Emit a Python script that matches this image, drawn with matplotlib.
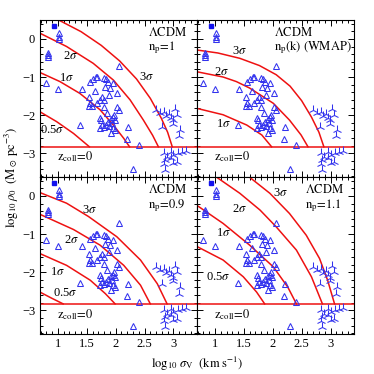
import numpy as np
import matplotlib as mpl
mpl.use('Agg')
from matplotlib import pyplot as plt
from matplotlib.ticker import MultipleLocator

plt.rcParams['font.family'] = ['Liberation Serif', 'DejaVu Serif']
plt.rcParams['mathtext.fontset'] = 'stix'

# galaxies (open triangles), log10 sigma_v, log10 rho_0
gal_x = [1.02, 1.02, 1.02, 0.83, 0.83, 0.83, 0.79, 0.995, 2.05, 1.41,
         1.56, 1.61, 1.66, 1.68, 1.80, 1.83, 1.86, 1.96, 2.03, 1.90,
         1.82, 1.64, 1.54, 1.56, 1.59, 1.67, 1.72, 1.76, 1.80, 1.89,
         1.80, 2.03, 2.05, 1.85, 1.72, 1.74, 1.76, 1.73, 1.79, 1.83,
         1.87, 1.92, 1.95, 1.97, 1.99, 1.93, 1.89, 1.96, 1.92, 1.99,
         2.21, 2.19, 2.40, 1.39, 2.30, 1.54]
gal_y = [0.15, 0.06, -0.01, -0.36, -0.42, -0.48, -1.15, -1.32, -0.71, -1.32,
         -1.12, -1.06, -1.01, -0.99, -1.03, -1.06, -1.12, -1.16, -1.43, -1.29,
         -1.27, -1.36, -1.53, -1.67, -1.76, -1.69, -1.60, -1.53, -1.59, -1.47,
         -1.79, -1.78, -1.86, -1.95, -2.08, -2.14, -2.26, -2.34, -2.32, -2.26,
         -2.17, -2.11, -2.06, -1.99, -2.13, -2.21, -2.28, -2.34, -2.46, -2.39,
         -2.32, -2.63, -2.78, -2.27, -3.42, -1.76]

# groups / clusters (tri markers)
cl_x = [2.70, 2.77, 2.84, 2.87, 2.92, 2.95, 2.99, 3.03, 3.06, 2.81,
        3.12, 2.99, 3.09, 2.83, 2.89, 2.96, 3.00, 3.08, 3.15, 3.22,
        2.95, 2.86, 2.83, 3.00, 3.06, 2.85]
cl_y = [-1.86, -1.95, -1.91, -2.02, -1.97, -2.08, -2.14, -1.85, -1.99, -2.30,
        -2.39, -2.23, -2.56, -3.00, -3.09, -2.96, -3.05, -3.00, -2.96, -2.93,
        -3.13, -3.18, -3.28, -3.26, -3.22, -3.44]

# filled square
sq_x = [0.93]
sq_y = [0.34]

z_coll0 = -2.83

# n sigma curves (x list, y list), outermost first
curves_np1 = [
    ([1.006, 1.40, 1.75, 2.07, 2.36, 2.60, 2.79, 2.90, 2.98],
     [0.50, 0.19, -0.17, -0.58, -1.05, -1.56, -2.08, -2.45, -2.83]),
    ([0.687, 1.15, 1.61, 1.96, 2.25, 2.48, 2.64, 2.74],
     [0.15, -0.20, -0.64, -1.08, -1.60, -2.13, -2.53, -2.83]),
    ([0.687, 1.035, 1.38, 1.73, 1.96, 2.14, 2.24],
     [-0.88, -1.12, -1.43, -1.86, -2.26, -2.61, -2.83]),
    ([0.687, 0.977, 1.27, 1.545],
     [-1.91, -2.17, -2.48, -2.83]),
]
curves_wmap = [
    ([0.68, 1.05, 1.43, 1.77, 2.06, 2.30, 2.50, 2.67, 2.80, 2.885],
     [-0.29, -0.37, -0.51, -0.70, -0.94, -1.24, -1.62, -2.05, -2.45, -2.83]),
    ([0.68, 1.14, 1.37, 1.60, 2.01, 2.29, 2.49, 2.61],
     [-0.86, -1.00, -1.12, -1.29, -1.69, -2.13, -2.52, -2.83]),
    ([0.68, 1.14, 1.55, 1.81, 1.98],
     [-1.82, -1.99, -2.26, -2.52, -2.83]),
]
curves_np09 = [
    ([0.687, 1.15, 1.53, 2.02, 2.43, 2.72, 2.89],
     [0.09, -0.19, -0.54, -1.07, -1.68, -2.30, -2.83]),
    ([0.687, 1.27, 1.73, 2.14, 2.43, 2.60],
     [-0.48, -0.88, -1.29, -1.82, -2.34, -2.83]),
    ([0.687, 1.15, 1.56, 1.82, 1.99],
     [-1.51, -1.82, -2.21, -2.56, -2.83]),
    ([0.687, 0.89, 1.09],
     [-2.52, -2.68, -2.83]),
]
curves_np11 = [
    ([1.60, 1.95, 2.29, 2.58, 2.81, 2.95, 3.07],
     [0.49, 0.07, -0.46, -1.03, -1.64, -2.21, -2.83]),
    ([1.03, 1.43, 1.78, 2.06, 2.41, 2.67, 2.86],
     [0.49, 0.07, -0.37, -0.81, -1.42, -2.12, -2.83]),
    ([0.68, 1.14, 1.60, 2.01, 2.26, 2.41],
     [-0.24, -0.72, -1.29, -1.86, -2.39, -2.83]),
    ([0.68, 1.14, 1.49, 1.72, 1.86],
     [-1.32, -1.68, -2.12, -2.52, -2.83]),
]

sig_labels = {
    'np1': [('3', 2.54, -0.99), ('2', 1.22, -0.46), ('1', 1.14, -1.03), ('0.5', 0.90, -2.39)],
    'wmap': [('3', 1.43, -0.33), ('2', 1.115, -0.88), ('1', 1.14, -2.23)],
    'np09': [('3', 1.54, -0.37), ('2', 1.24, -1.16), ('1', 0.99, -1.99), ('0.5', 1.12, -2.54)],
    'np11': [('3', 2.13, 0.07), ('2', 1.43, -0.35), ('1', 1.14, -0.98), ('0.5', 1.06, -2.12)],
}

panels = [
    ('np1', curves_np1, r'$\mathrm{n_p\!=\!1}$', 0.69, [0.107, 0.527, 0.420, 0.420]),
    ('wmap', curves_wmap, r'$\mathrm{n_p(k)\ (WMAP)}$', 0.49, [0.527, 0.527, 0.420, 0.420]),
    ('np09', curves_np09, r'$\mathrm{n_p\!=\!0.9}$', 0.69, [0.107, 0.107, 0.420, 0.420]),
    ('np11', curves_np11, r'$\mathrm{n_p\!=\!1.1}$', 0.69, [0.527, 0.107, 0.420, 0.420]),
]

fig = plt.figure(figsize=(3.74, 3.74), dpi=100)
red = '#ee1111'
blue = '#3333ee'
fs = 9

for i, (key, curves, nlab, tx, rect) in enumerate(panels):
    ax = fig.add_axes(rect)
    ax.set_xlim(0.69, 3.41)
    ax.set_ylim(-3.62, 0.5)
    ax.axhline(z_coll0, color=red, lw=1.1)
    for cx, cy in curves:
        ax.plot(cx, cy, color=red, lw=1.1, solid_joinstyle='round')
    ax.plot(gal_x, gal_y, ls='none', marker='^', ms=4.6, mfc='none',
            mec=blue, mew=0.75)
    ax.plot(cl_x, cl_y, ls='none', marker='2', ms=6.5, color=blue, mew=0.75)
    ax.plot(sq_x, sq_y, ls='none', marker='s', ms=3.2, color='#1111ee')
    for s, lx, ly in sig_labels[key]:
        ax.text(lx, ly, s + r'$\sigma$', fontsize=fs, ha='center', va='center')
    ax.text(tx, 0.917, r'$\Lambda\mathrm{CDM}$', transform=ax.transAxes,
            fontsize=fs, ha='left', va='center')
    ax.text(tx, 0.82, nlab, transform=ax.transAxes,
            fontsize=fs, ha='left', va='center')
    ax.text(0.11, -3.1, r'$\mathrm{z_{coll}\!=\!0}$', transform=ax.get_yaxis_transform(),
            fontsize=fs, ha='left', va='center')

    ax.xaxis.set_major_locator(MultipleLocator(0.5))
    ax.xaxis.set_minor_locator(MultipleLocator(0.1))
    ax.yaxis.set_major_locator(MultipleLocator(1))
    ax.yaxis.set_minor_locator(MultipleLocator(0.2))
    ax.tick_params(which='both', direction='in', top=True, right=True,
                   labelsize=fs, width=0.7)
    ax.tick_params(which='major', length=4.5)
    ax.tick_params(which='minor', length=2.3)
    ax.tick_params(axis='x', pad=3)
    ax.xaxis.set_major_formatter(mpl.ticker.FuncFormatter(
        lambda v, p: ('%g' % v) if v >= 1 else ''))
    ax.yaxis.set_major_formatter(mpl.ticker.FuncFormatter(
        lambda v, p: ('%d' % v).replace('-', '\u2212')))
    if i < 2:
        ax.tick_params(labelbottom=False)
    if i % 2 == 1:
        ax.tick_params(labelleft=False)
    for sp in ax.spines.values():
        sp.set_linewidth(0.8)

fig.text(0.033, 0.527, r'$\mathrm{log_{10}}\,\rho_0\ \ (\mathrm{M_\odot\ pc^{-3}})$',
         rotation=90, fontsize=fs, ha='center', va='center')
fig.text(0.527, 0.028, r'$\mathrm{log_{10}}\ \sigma_\mathrm{V}\ \ (\mathrm{km\ s^{-1}})$',
         fontsize=fs, ha='center', va='center')

fig.savefig('out.png', dpi=100)
